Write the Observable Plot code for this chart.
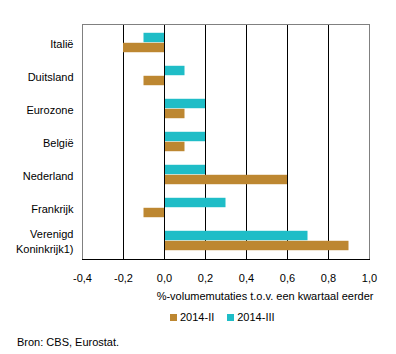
<!DOCTYPE html>
<html>
<head>
<meta charset="utf-8">
<script src="https://cdn.jsdelivr.net/npm/d3@7"></script>
<script src="https://cdn.jsdelivr.net/npm/@observablehq/plot@0.6"></script>
<style>
  body { margin: 0; font-family: "Liberation Sans", Arial, sans-serif; background: #fff; }
  #chart svg { display: block; }
  .legend { margin-top: 4px; height: 14px; line-height: 14px; font-size: 11px; padding-left: 170px; white-space: nowrap; }
  .legend .sw { display: inline-block; width: 7px; height: 7px; margin-right: 3px; vertical-align: 0px; }
  .legend .item { margin-right: 13px; }
  .source { margin-top: 11px; line-height: 14px; font-size: 11px; padding-left: 17px; }
</style>
</head>
<body>
<div id="chart"></div>
<div class="legend" id="legend"></div>
<div class="source">Bron: CBS, Eurostat.</div>
<script>
const countries = ["Italië", "Duitsland", "Eurozone", "België", "Nederland", "Frankrijk", "Verenigd\nKoninkrijk1)"];
const series = ["2014-II", "2014-III"];
const valuesII = [-0.2, -0.1, 0.1, 0.1, 0.6, -0.1, 0.9];
const valuesIII = [-0.1, 0.1, 0.2, 0.2, 0.2, 0.3, 0.7];
const colors = ["#bd8731", "#1fbdc7"];
const xTicks = [-0.4, -0.2, 0.0, 0.2, 0.4, 0.6, 0.8, 1.0];
const axisTitle = "%-volumemutaties t.o.v. een kwartaal eerder";

const dataII = countries.map((c, i) => ({country: c, series: series[0], value: valuesII[i]}));
const dataIII = countries.map((c, i) => ({country: c, series: series[1], value: valuesIII[i]}));

const fmt = d => d.toFixed(1).replace(".", ",");
const gridVals = xTicks.slice(1, -1);
const edges = [xTicks[0], xTicks[xTicks.length - 1]];

const W = 396, H = 306, mT = 24, mB = 47, mL = 82, mR = 27;
// bar thickness and group layout within each country band
const step = (H - mT - mB) / countries.length;
const barH = 10;
const gap = (step - 2 * barH) / 2;

const chart = Plot.plot({
  width: W,
  height: H,
  marginTop: mT,
  marginBottom: mB,
  marginLeft: mL,
  marginRight: mR,
  style: {fontFamily: "Liberation Sans, Arial, sans-serif", fontSize: "11px", color: "#000", background: "#fff"},
  x: {domain: edges, axis: null},
  y: {domain: countries, axis: null, padding: 0},
  color: {domain: series, range: colors},
  marks: [
    Plot.ruleX(gridVals, {stroke: "#000", strokeWidth: 1}),
    Plot.barX(dataIII, {x: "value", y: "country", fill: "series", insetTop: gap, insetBottom: gap + barH}),
    Plot.barX(dataII, {x: "value", y: "country", fill: "series", insetTop: gap + barH, insetBottom: gap}),
    Plot.ruleX([0], {stroke: "#000", strokeWidth: 1}),
    Plot.frame({stroke: "#808080", strokeWidth: 1}),
    Plot.frame({anchor: "bottom", stroke: "#000"}),
    Plot.axisY({anchor: "left", tickSize: 0, tickPadding: 9, lineHeight: 1.35, fill: "#000", label: null}),
    Plot.axisX({ticks: xTicks, tickFormat: fmt, tickSize: 0, tickPadding: 15, fill: "#000", label: null}),
    Plot.text([axisTitle], {text: d => d, frameAnchor: "bottom-right", textAnchor: "end", lineAnchor: "middle",
      dy: 37, dx: 4, fill: "#000"})
  ]
});
document.getElementById("chart").appendChild(chart);

const legend = document.getElementById("legend");
series.forEach((s, i) => {
  const item = document.createElement("span");
  item.className = "item";
  const sw = document.createElement("span");
  sw.className = "sw";
  sw.style.background = colors[i];
  item.appendChild(sw);
  item.appendChild(document.createTextNode(s));
  legend.appendChild(item);
});
</script>
</body>
</html>
